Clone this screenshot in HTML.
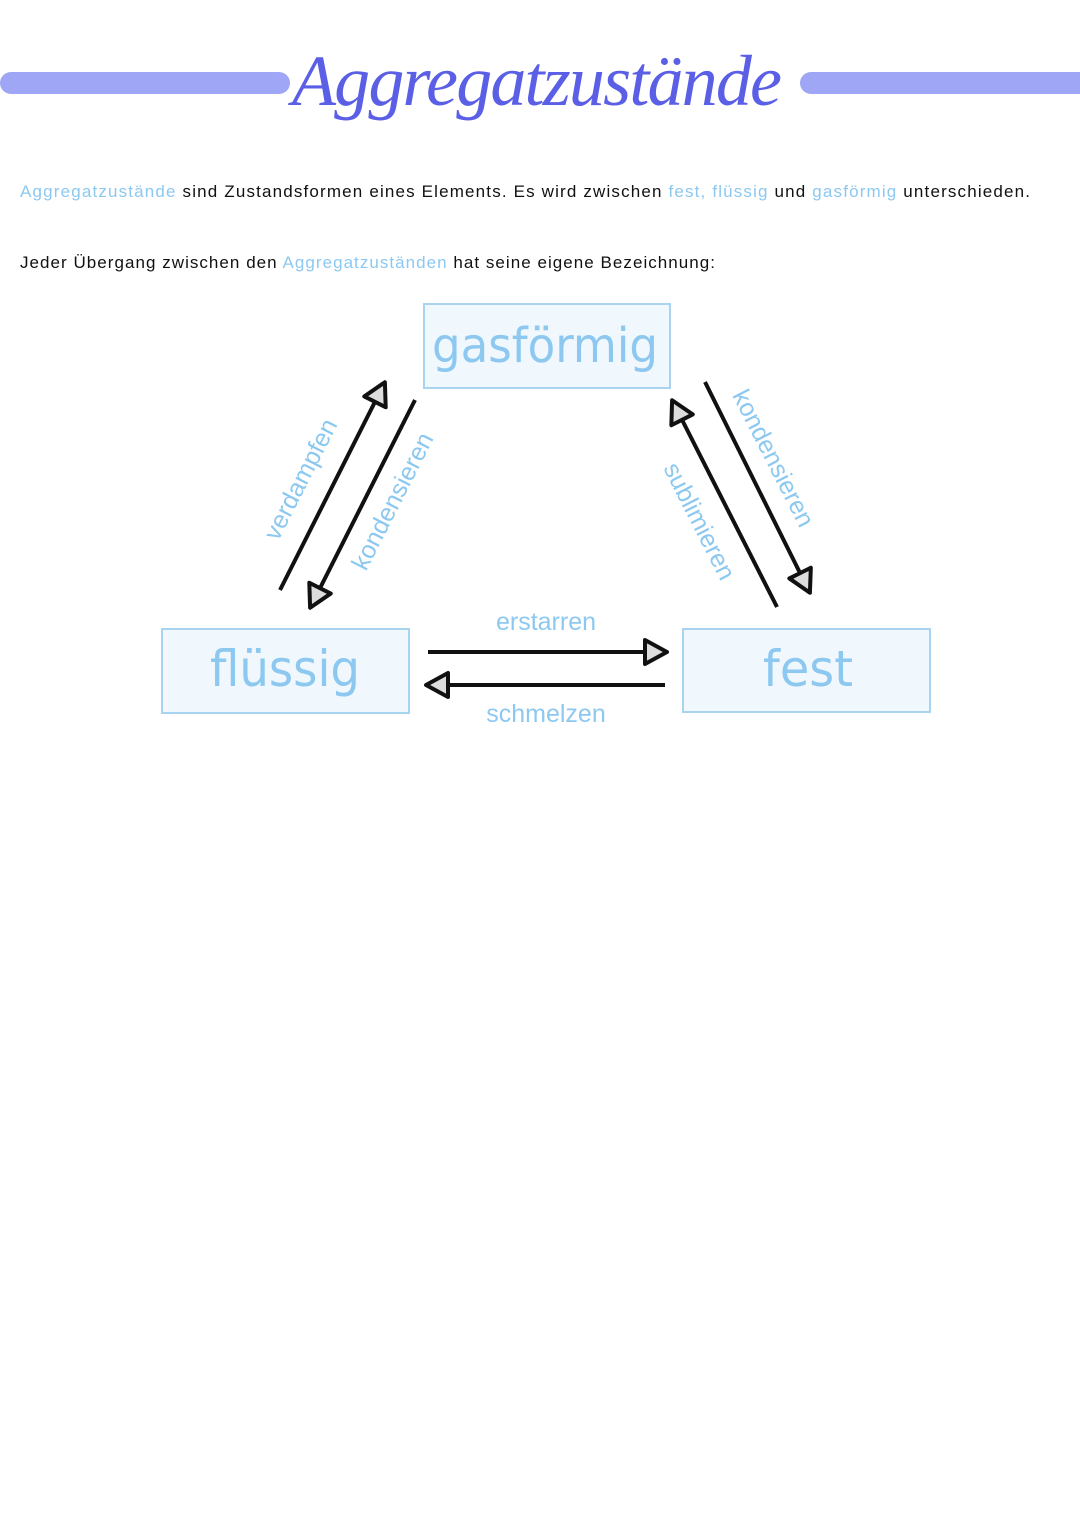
<!DOCTYPE html>
<html><head><meta charset="utf-8"><style>
body{margin:0;background:#fff}
svg{display:block}
.h{font-family:"Liberation Sans",sans-serif;fill:#8cc8f0}
.b{font-family:"Liberation Sans",sans-serif;fill:#111}
</style></head><body>
<svg width="1080" height="1527" viewBox="0 0 1080 1527" xmlns="http://www.w3.org/2000/svg">
<defs>
<marker id="a" viewBox="0 0 30 30" refX="24" refY="15" markerWidth="30" markerHeight="30" markerUnits="userSpaceOnUse" orient="auto">
<path d="M4,3 L26,15 L4,27 Z" fill="#ddd" stroke="#111" stroke-width="4" stroke-linejoin="round"/>
</marker>
</defs>
<rect x="0" y="72" width="290" height="22" rx="11" fill="#9ea6f5"/>
<rect x="800" y="72" width="290" height="22" rx="11" fill="#9ea6f5"/>
<text x="537" y="105" text-anchor="middle" font-family="'Liberation Serif',serif" font-style="italic" font-size="72" fill="#5a5fe6" textLength="490">Aggregatzustände</text>

<text x="20" y="197" font-size="17" class="b" textLength="1010"><tspan class="h">Aggregatzustände</tspan> sind Zustandsformen eines Elements. Es wird zwischen <tspan class="h">fest, flüssig</tspan> und <tspan class="h">gasförmig</tspan> unterschieden.</text>
<text x="20" y="268" font-size="17" class="b" textLength="695">Jeder Übergang zwischen den <tspan class="h">Aggregatzuständen</tspan> hat seine eigene Bezeichnung:</text>

<g fill="#f0f7fd" stroke="#a8d4f0" stroke-width="2">
<rect x="424" y="304" width="246" height="84"/>
<rect x="162" y="629" width="247" height="84"/>
<rect x="683" y="629" width="247" height="83"/>
</g>
<g font-family="'DejaVu Sans','Liberation Sans',sans-serif" fill="#8cc8f0">
<text x="432" y="362" font-size="48" textLength="226" lengthAdjust="spacingAndGlyphs">gasförmig</text>
<text x="210" y="686" font-size="50" textLength="150" lengthAdjust="spacingAndGlyphs">flüssig</text>
<text x="763" y="686" font-size="50" textLength="90" lengthAdjust="spacingAndGlyphs">fest</text>
</g>

<g stroke="#111" stroke-width="4" fill="none" marker-end="url(#a)">
<line x1="280" y1="590" x2="384" y2="384"/>
<line x1="415" y1="400" x2="311" y2="606"/>
<line x1="777" y1="607" x2="673" y2="402"/>
<line x1="705" y1="382" x2="809" y2="591"/>
<line x1="428" y1="652" x2="665" y2="652"/>
<line x1="665" y1="685" x2="428" y2="685"/>
</g>

<g class="h" font-size="25" text-anchor="middle">
<text transform="translate(308,483) rotate(-63)">verdampfen</text>
<text transform="translate(400,505) rotate(-63)">kondensieren</text>
<text transform="translate(766,462) rotate(63)">kondensieren</text>
<text transform="translate(692,525) rotate(63)">sublimieren</text>
<text x="546" y="630">erstarren</text>
<text x="546" y="722">schmelzen</text>
</g>
</svg>
</body></html>
